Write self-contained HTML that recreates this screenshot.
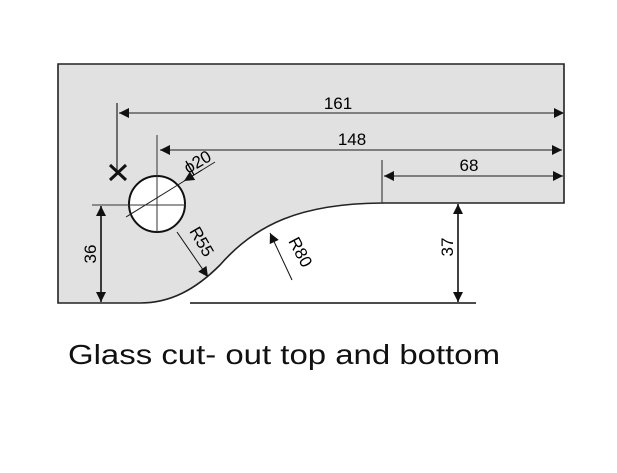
<!DOCTYPE html>
<html><head><style>body{margin:0;background:#fff}svg{display:block}</style></head><body>
<svg width="617" height="473" viewBox="0 0 617 473" xmlns="http://www.w3.org/2000/svg" font-family="Liberation Sans, sans-serif">
<defs>
<marker id="a" viewBox="0 0 10 10" refX="10" refY="5" markerWidth="14" markerHeight="10" markerUnits="userSpaceOnUse" orient="auto-start-reverse"><path d="M0,0L10,5L0,10z" fill="#111"/></marker>
</defs>
<path d="M58,64 H564 V203 H385 C300,203 255,225 220,265 C195,290 170,303 140,303 H58 Z" fill="#e1e1e1" stroke="#222" stroke-width="1.6"/>
<circle cx="157" cy="204" r="28" fill="#fff" stroke="#111" stroke-width="2"/>
<line x1="157" y1="135" x2="157" y2="232" stroke="#333" stroke-width="1"/>
<line x1="92" y1="205" x2="186" y2="205" stroke="#333" stroke-width="1"/>
<line x1="126" y1="217" x2="215" y2="162" stroke="#222" stroke-width="1"/>
<line x1="202" y1="170" x2="184" y2="181" stroke="#111" stroke-width="1" marker-end="url(#a)"/>
<text x="0" y="0" font-size="17" transform="translate(188,174) rotate(-30)">ϕ20</text>
<line x1="117" y1="103" x2="117" y2="172" stroke="#222" stroke-width="1.2"/>
<path d="M110,165 L126,180 M126,165 L110,180" stroke="#111" stroke-width="3"/>
<line x1="119" y1="113" x2="564" y2="113" stroke="#444" stroke-width="1.2" marker-start="url(#a)" marker-end="url(#a)"/>
<text x="338" y="109" font-size="17" text-anchor="middle">161</text>
<line x1="160" y1="150" x2="562" y2="150" stroke="#444" stroke-width="1.2" marker-start="url(#a)" marker-end="url(#a)"/>
<text x="352" y="145" font-size="17" text-anchor="middle">148</text>
<line x1="382" y1="160" x2="382" y2="203" stroke="#444" stroke-width="1.2"/>
<line x1="384" y1="176" x2="563" y2="176" stroke="#444" stroke-width="1.2" marker-start="url(#a)" marker-end="url(#a)"/>
<text x="469" y="171" font-size="17" text-anchor="middle">68</text>
<line x1="101" y1="206" x2="101" y2="302" stroke="#111" stroke-width="1.6" marker-start="url(#a)" marker-end="url(#a)"/>
<text font-size="17" text-anchor="middle" transform="translate(96,254) rotate(-90)">36</text>
<line x1="458" y1="204" x2="458" y2="302" stroke="#111" stroke-width="1.6" marker-start="url(#a)" marker-end="url(#a)"/>
<text font-size="17" text-anchor="middle" transform="translate(453,247) rotate(-90)">37</text>
<line x1="190" y1="303" x2="476" y2="303" stroke="#111" stroke-width="1.6"/>
<line x1="177" y1="232" x2="208" y2="277" stroke="#111" stroke-width="1" marker-end="url(#a)"/>
<text font-size="17" transform="translate(189,231) rotate(60)">R55</text>
<line x1="292" y1="280" x2="270" y2="233" stroke="#111" stroke-width="1" marker-end="url(#a)"/>
<text font-size="17" transform="translate(288,241) rotate(62)">R80</text>
<text x="68" y="364" font-size="28" textLength="432" lengthAdjust="spacingAndGlyphs" fill="#111">Glass cut- out top and bottom</text>
</svg>
</body></html>
